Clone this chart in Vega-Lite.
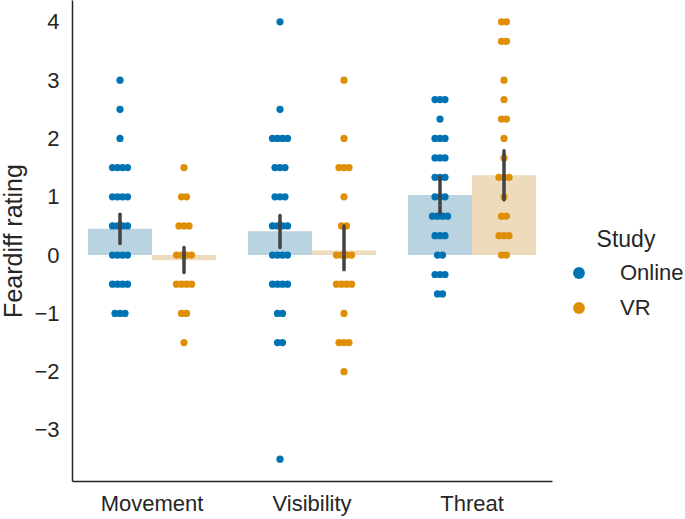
{
"$schema": "https://vega.github.io/schema/vega-lite/v6.json",
"width": 480, "height": 481,
"autosize": {"type": "none"},
"padding": {"left": 72, "top": 0, "right": 133, "bottom": 38},
"config": {
  "view": {"stroke": null},
  "font": "Liberation Sans",
  "axis": {"domainColor": "#262626", "domainWidth": 1.5, "ticks": false, "grid": false, "labelColor": "#262626", "labelFontSize": 22, "titleFontSize": 25, "titleColor": "#262626", "titleFontWeight": "normal", "labelFont": "Liberation Sans", "titleFont": "Liberation Sans"},
  "legend": {"labelFont": "Liberation Sans", "titleFont": "Liberation Sans"}
},
"datasets": {
"summary": [
{"condition":"Movement","study":"Online","mean":0.45,"lo":0.20,"hi":0.70},
{"condition":"Movement","study":"VR","mean":-0.09,"lo":-0.30,"hi":0.13},
{"condition":"Visibility","study":"Online","mean":0.41,"lo":0.13,"hi":0.68},
{"condition":"Visibility","study":"VR","mean":0.08,"lo":-0.25,"hi":0.50},
{"condition":"Threat","study":"Online","mean":1.03,"lo":0.72,"hi":1.34},
{"condition":"Threat","study":"VR","mean":1.37,"lo":0.95,"hi":1.79}
],
"points": [
{"condition":"Movement","study":"Online","rating":3},
{"condition":"Movement","study":"Online","rating":2.5},
{"condition":"Movement","study":"Online","rating":2},
{"condition":"Movement","study":"Online","rating":1.5},
{"condition":"Movement","study":"Online","rating":1.5},
{"condition":"Movement","study":"Online","rating":1.5},
{"condition":"Movement","study":"Online","rating":1.5},
{"condition":"Movement","study":"Online","rating":1},
{"condition":"Movement","study":"Online","rating":1},
{"condition":"Movement","study":"Online","rating":1},
{"condition":"Movement","study":"Online","rating":1},
{"condition":"Movement","study":"Online","rating":0.5},
{"condition":"Movement","study":"Online","rating":0.5},
{"condition":"Movement","study":"Online","rating":0.5},
{"condition":"Movement","study":"Online","rating":0.5},
{"condition":"Movement","study":"Online","rating":0},
{"condition":"Movement","study":"Online","rating":0},
{"condition":"Movement","study":"Online","rating":0},
{"condition":"Movement","study":"Online","rating":0},
{"condition":"Movement","study":"Online","rating":-0.5},
{"condition":"Movement","study":"Online","rating":-0.5},
{"condition":"Movement","study":"Online","rating":-0.5},
{"condition":"Movement","study":"Online","rating":-0.5},
{"condition":"Movement","study":"Online","rating":-1},
{"condition":"Movement","study":"Online","rating":-1},
{"condition":"Movement","study":"Online","rating":-1},
{"condition":"Movement","study":"VR","rating":1.5},
{"condition":"Movement","study":"VR","rating":1},
{"condition":"Movement","study":"VR","rating":1},
{"condition":"Movement","study":"VR","rating":0.5},
{"condition":"Movement","study":"VR","rating":0.5},
{"condition":"Movement","study":"VR","rating":0.5},
{"condition":"Movement","study":"VR","rating":0},
{"condition":"Movement","study":"VR","rating":0},
{"condition":"Movement","study":"VR","rating":0},
{"condition":"Movement","study":"VR","rating":0},
{"condition":"Movement","study":"VR","rating":-0.5},
{"condition":"Movement","study":"VR","rating":-0.5},
{"condition":"Movement","study":"VR","rating":-0.5},
{"condition":"Movement","study":"VR","rating":-0.5},
{"condition":"Movement","study":"VR","rating":-1},
{"condition":"Movement","study":"VR","rating":-1},
{"condition":"Movement","study":"VR","rating":-1.5},
{"condition":"Visibility","study":"Online","rating":4},
{"condition":"Visibility","study":"Online","rating":2.5},
{"condition":"Visibility","study":"Online","rating":2},
{"condition":"Visibility","study":"Online","rating":2},
{"condition":"Visibility","study":"Online","rating":2},
{"condition":"Visibility","study":"Online","rating":2},
{"condition":"Visibility","study":"Online","rating":1.5},
{"condition":"Visibility","study":"Online","rating":1.5},
{"condition":"Visibility","study":"Online","rating":1.5},
{"condition":"Visibility","study":"Online","rating":1},
{"condition":"Visibility","study":"Online","rating":1},
{"condition":"Visibility","study":"Online","rating":1},
{"condition":"Visibility","study":"Online","rating":0.5},
{"condition":"Visibility","study":"Online","rating":0.5},
{"condition":"Visibility","study":"Online","rating":0.5},
{"condition":"Visibility","study":"Online","rating":0.5},
{"condition":"Visibility","study":"Online","rating":0},
{"condition":"Visibility","study":"Online","rating":0},
{"condition":"Visibility","study":"Online","rating":0},
{"condition":"Visibility","study":"Online","rating":0},
{"condition":"Visibility","study":"Online","rating":-0.5},
{"condition":"Visibility","study":"Online","rating":-0.5},
{"condition":"Visibility","study":"Online","rating":-0.5},
{"condition":"Visibility","study":"Online","rating":-0.5},
{"condition":"Visibility","study":"Online","rating":-1},
{"condition":"Visibility","study":"Online","rating":-1},
{"condition":"Visibility","study":"Online","rating":-1.5},
{"condition":"Visibility","study":"Online","rating":-1.5},
{"condition":"Visibility","study":"Online","rating":-3.5},
{"condition":"Visibility","study":"VR","rating":3},
{"condition":"Visibility","study":"VR","rating":2},
{"condition":"Visibility","study":"VR","rating":1.5},
{"condition":"Visibility","study":"VR","rating":1.5},
{"condition":"Visibility","study":"VR","rating":1.5},
{"condition":"Visibility","study":"VR","rating":1},
{"condition":"Visibility","study":"VR","rating":0.5},
{"condition":"Visibility","study":"VR","rating":0.5},
{"condition":"Visibility","study":"VR","rating":0},
{"condition":"Visibility","study":"VR","rating":0},
{"condition":"Visibility","study":"VR","rating":0},
{"condition":"Visibility","study":"VR","rating":0},
{"condition":"Visibility","study":"VR","rating":-0.5},
{"condition":"Visibility","study":"VR","rating":-0.5},
{"condition":"Visibility","study":"VR","rating":-0.5},
{"condition":"Visibility","study":"VR","rating":-0.5},
{"condition":"Visibility","study":"VR","rating":-1},
{"condition":"Visibility","study":"VR","rating":-1.5},
{"condition":"Visibility","study":"VR","rating":-1.5},
{"condition":"Visibility","study":"VR","rating":-1.5},
{"condition":"Visibility","study":"VR","rating":-2},
{"condition":"Threat","study":"Online","rating":2.667},
{"condition":"Threat","study":"Online","rating":2.667},
{"condition":"Threat","study":"Online","rating":2.667},
{"condition":"Threat","study":"Online","rating":2.333},
{"condition":"Threat","study":"Online","rating":2},
{"condition":"Threat","study":"Online","rating":2},
{"condition":"Threat","study":"Online","rating":2},
{"condition":"Threat","study":"Online","rating":1.667},
{"condition":"Threat","study":"Online","rating":1.667},
{"condition":"Threat","study":"Online","rating":1.667},
{"condition":"Threat","study":"Online","rating":1.333},
{"condition":"Threat","study":"Online","rating":1.333},
{"condition":"Threat","study":"Online","rating":1.333},
{"condition":"Threat","study":"Online","rating":1},
{"condition":"Threat","study":"Online","rating":1},
{"condition":"Threat","study":"Online","rating":1},
{"condition":"Threat","study":"Online","rating":0.667},
{"condition":"Threat","study":"Online","rating":0.667},
{"condition":"Threat","study":"Online","rating":0.667},
{"condition":"Threat","study":"Online","rating":0.667},
{"condition":"Threat","study":"Online","rating":0.333},
{"condition":"Threat","study":"Online","rating":0.333},
{"condition":"Threat","study":"Online","rating":0.333},
{"condition":"Threat","study":"Online","rating":0},
{"condition":"Threat","study":"Online","rating":0},
{"condition":"Threat","study":"Online","rating":-0.333},
{"condition":"Threat","study":"Online","rating":-0.333},
{"condition":"Threat","study":"Online","rating":-0.333},
{"condition":"Threat","study":"Online","rating":-0.667},
{"condition":"Threat","study":"Online","rating":-0.667},
{"condition":"Threat","study":"VR","rating":4},
{"condition":"Threat","study":"VR","rating":4},
{"condition":"Threat","study":"VR","rating":3.667},
{"condition":"Threat","study":"VR","rating":3.667},
{"condition":"Threat","study":"VR","rating":3},
{"condition":"Threat","study":"VR","rating":2.667},
{"condition":"Threat","study":"VR","rating":2.333},
{"condition":"Threat","study":"VR","rating":2.333},
{"condition":"Threat","study":"VR","rating":2},
{"condition":"Threat","study":"VR","rating":1.667},
{"condition":"Threat","study":"VR","rating":1.333},
{"condition":"Threat","study":"VR","rating":1.333},
{"condition":"Threat","study":"VR","rating":1.333},
{"condition":"Threat","study":"VR","rating":1},
{"condition":"Threat","study":"VR","rating":0.667},
{"condition":"Threat","study":"VR","rating":0.667},
{"condition":"Threat","study":"VR","rating":0.333},
{"condition":"Threat","study":"VR","rating":0.333},
{"condition":"Threat","study":"VR","rating":0.333},
{"condition":"Threat","study":"VR","rating":0},
{"condition":"Threat","study":"VR","rating":0}
]
},
"layer": [
{
  "data": {"name": "summary"},
  "mark": {"type": "bar"},
  "encoding": {
    "x": {"field": "condition", "type": "nominal", "scale": {"domain": ["Movement", "Visibility", "Threat"], "paddingInner": 0.2, "paddingOuter": 0.1}, "axis": {"title": null, "labelAngle": 0, "labelPadding": 12}},
    "xOffset": {"field": "study", "type": "nominal", "scale": {"domain": ["Online", "VR"], "paddingInner": 0, "paddingOuter": 0}},
    "y": {"field": "mean", "type": "quantitative", "scale": {"domain": [-3.875, 4.375], "nice": false, "zero": false}, "axis": {"values": [-3, -2, -1, 0, 1, 2, 3, 4], "format": "d", "labelPadding": 13, "title": "Feardiff rating", "titlePadding": 7}},
    "y2": {"datum": 0},
    "fill": {"condition": {"test": "datum.study === 'Online'", "value": "#b9d3e1"}, "value": "#eddbbc"}
  }
},
{
  "data": {"name": "points"},
  "transform": [
    {"window": [{"op": "row_number", "as": "rank"}, {"op": "count", "as": "n"}], "groupby": ["condition", "study", "rating"], "frame": [null, null]},
    {"calculate": "(datum.study === 'Online' ? -32 : 32) + (datum.rank - (datum.n + 1) / 2) * 5", "as": "off"}
  ],
  "mark": {"type": "circle", "size": 52, "opacity": 1},
  "encoding": {
    "x": {"field": "condition", "type": "nominal"},
    "xOffset": {"field": "off", "type": "quantitative", "scale": {"domain": [-64, 64], "nice": false, "zero": false}},
    "y": {"field": "rating", "type": "quantitative"},
    "color": {"field": "study", "type": "nominal", "scale": {"domain": ["Online", "VR"], "range": ["#0173b2", "#de8f05"]},
      "legend": {"title": "Study", "orient": "none", "legendX": 496, "legendY": 229, "titleFontSize": 23, "titleFontWeight": "normal", "titleColor": "#262626", "titleAnchor": "middle", "titlePadding": 10, "labelFontSize": 22, "labelColor": "#262626", "labelOffset": 30, "rowPadding": 13, "symbolType": "circle", "symbolSize": 140, "symbolStrokeWidth": 0}}
  }
},
{
  "data": {"name": "summary"},
  "mark": {"type": "rule", "strokeWidth": 3.5, "color": "#424242", "strokeCap": "round"},
  "encoding": {
    "x": {"field": "condition", "type": "nominal"},
    "xOffset": {"field": "study", "type": "nominal", "scale": {"domain": ["Online", "VR"], "paddingInner": 0, "paddingOuter": 0}},
    "y": {"field": "lo", "type": "quantitative"},
    "y2": {"field": "hi"}
  }
}
],
"resolve": {"scale": {"xOffset": "independent"}}
}
